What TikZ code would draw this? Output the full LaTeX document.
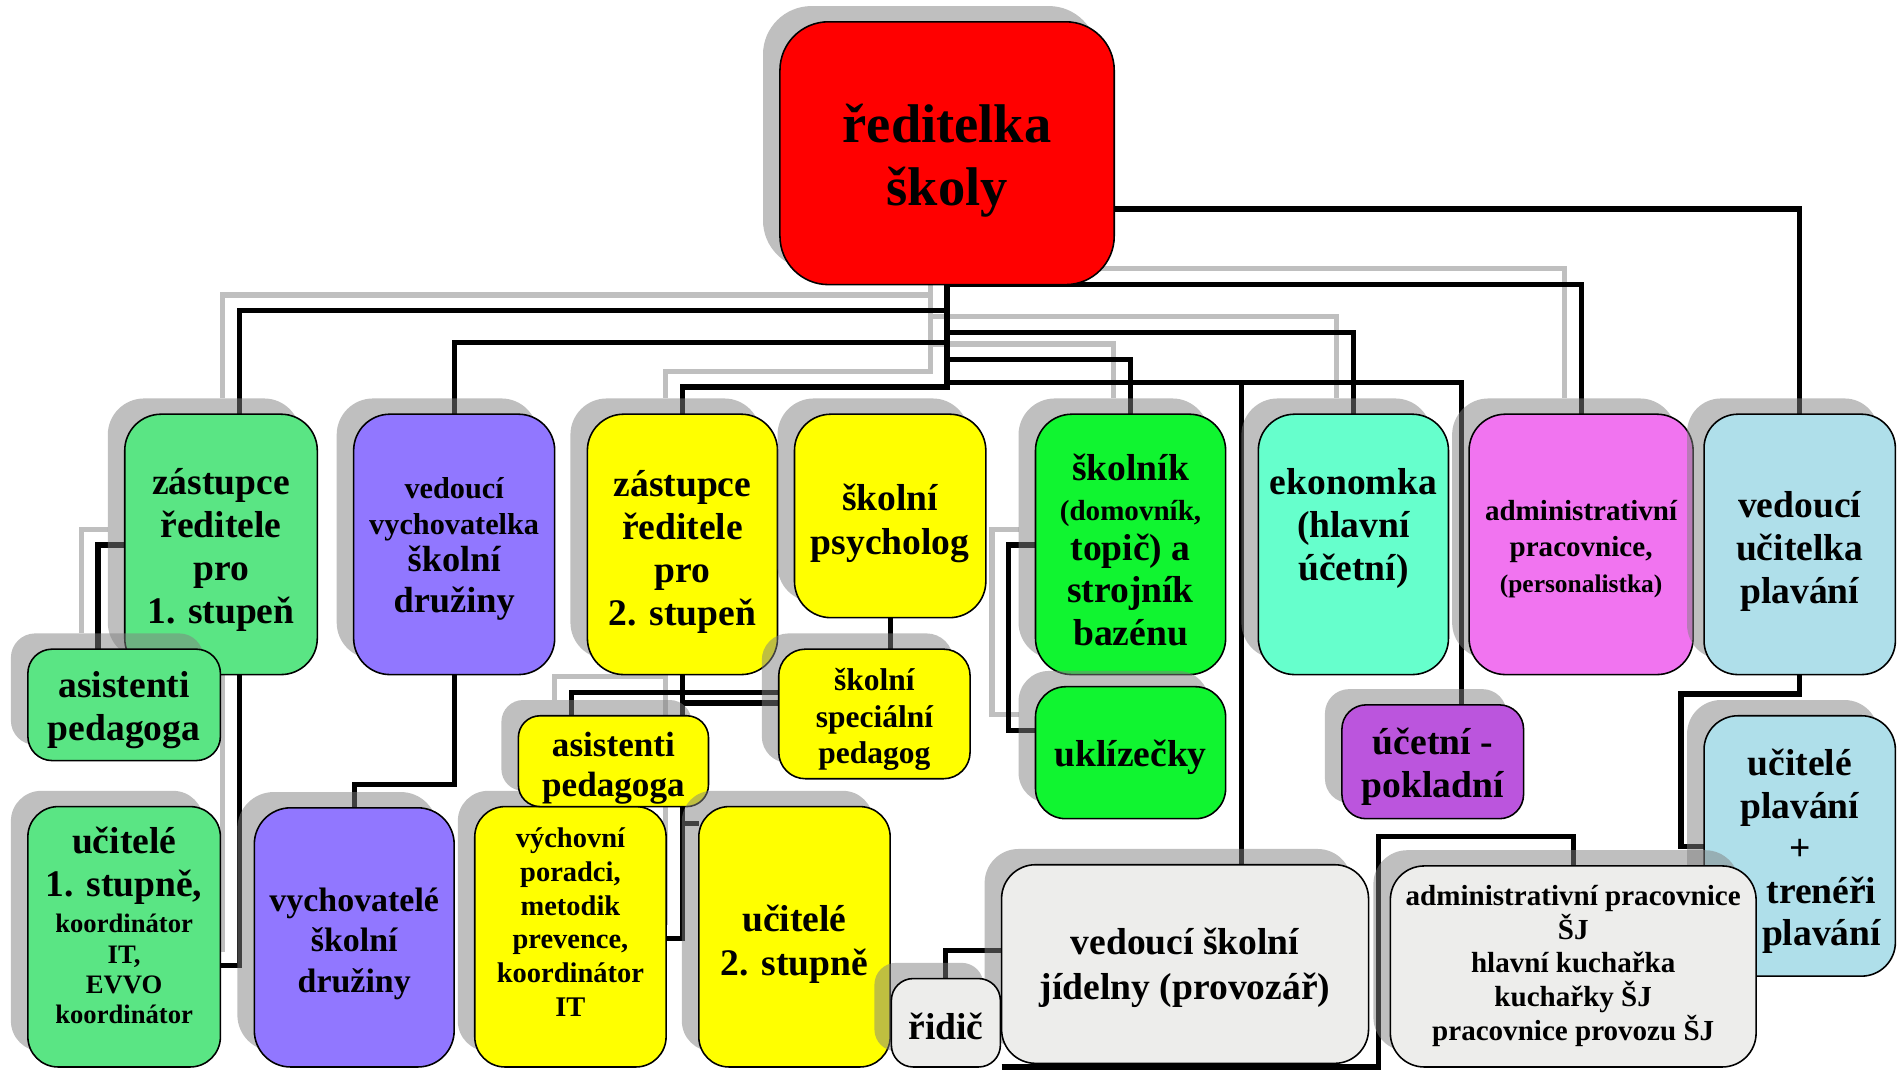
\documentclass[tikz,border=0pt]{standalone}
\usepackage{fontspec}
\setmainfont{Liberation Serif}
\usetikzlibrary{shadows}
\pgfdeclarelayer{bgl}
\pgfdeclarelayer{lshad}
\pgfdeclarelayer{lines}
\pgfsetlayers{bgl,lshad,lines,main}
\definecolor{cred}{HTML}{FF0000}
\definecolor{czel}{HTML}{5AE584}
\definecolor{cfial}{HTML}{9177FF}
\definecolor{cyel}{HTML}{FFFF00}
\definecolor{csvzel}{HTML}{10F530}
\definecolor{caqua}{HTML}{66FFCC}
\definecolor{cucet}{HTML}{BB55DD}
\definecolor{cruz}{HTML}{F174F0}
\definecolor{cmodr}{HTML}{AFDFEA}
\definecolor{cseda}{HTML}{EDEDEB}
\definecolor{clsh}{HTML}{BFBFBF}
\newcommand\fsz[2]{\fontsize{#1pt}{#2pt}\selectfont\lineskiplimit=-200pt\relax}
% box: name, x1, y1, x2, y2, fill, radius
\newcommand\bx[7]{\node[box, fill=#6, rounded corners=#7pt,
  minimum width={#4pt-#2pt}, minimum height={#5pt-#3pt}] (#1) at ({(#2+#4)/2},{(#3+#5)/2}) {};}
% connectors
\newcommand\cAd[1]{\draw[#1] (red.south) -| (ad.north);}
\newcommand\cZa[1]{\draw[#1] (red.south) -- (red.south |- 0,256.5) -| (z1.north -| 198,0);}
\newcommand\cEk[1]{\draw[#1] (red.south) -- (red.south |- 0,274.5) -| (ek.north);}
\newcommand\cVv[1]{\draw[#1] (red.south) -- (red.south |- 0,283) -| (vv.north);}
\newcommand\cSk[1]{\draw[#1] (red.south) -- (red.south |- 0,297) -| (sk.north);}
\newcommand\cUc[1]{\draw[#1] (red.south) -- (red.south |- 0,316) -| (uc.north -| 1207,0);}
\newcommand\cVj[1]{\draw[#1] (red.south |- 0,316) -| (vj.north -| 1025,0);}
\newcommand\cZb[1]{\draw[#1] (red.south) -- (red.south |- 0,319.5) -| (z2.north);}
\newcommand\cVpl[1]{\draw[#1] (red.east |- 0,172.5) -| (vpl.north);}
\newcommand\cAsa[1]{\draw[#1] (z1.west |- 0,450) -| (as1.north -| 81,0);}
\newcommand\cUa[1]{\draw[#1] (z1.south -| 198,0) |- (u1.east |- 0,797);}
\newcommand\cVy[1]{\draw[#1] (vv.south) -- (vv.south |- 0,648) -| (vy.north);}
\newcommand\cAsb[1]{\draw[#1] (z2.south) -- (z2.south |- 0,571.5) -| (as2.north -| 472,0);}
\newcommand\cSpa[1]{\draw[#1] (z2.south |- 0,571.5) -- (sp.west |- 0,571.5);}
\newcommand\cSpb[1]{\draw[#1] (z2.south) -- (z2.south |- 0,580.5) -- (sp.west |- 0,580.5);}
\newcommand\cVp[1]{\draw[#1] (z2.south) -- (z2.south |- 0,775) -- (vp.east |- 0,775);}
\newcommand\cUb[1]{\draw[#1] (z2.south |- 0,680) -- (u2.west |- 0,680);}
\newcommand\cPs[1]{\draw[#1] (ps.south) -- (ps.south |- sp.north);}
\newcommand\cUk[1]{\draw[#1] (sk.west |- 0,450) -| (833,603) -- (uk.west |- 0,603);}
\newcommand\cUpl[1]{\draw[#1] (vpl.south) -- (vpl.south |- 0,573) -| (1388,699) -- (upl.west |- 0,699);}
\newcommand\cRi[1]{\draw[#1] (vj.west |- 0,785) -| (ri.north);}
\newcommand\cAsj[1]{\draw[#1] (vj.south west |- 0,881) -| (1138,691) -| (asj.north);}
\begin{document}
\begin{tikzpicture}[x=1pt,y=-1pt,
  box/.style={draw=black, line width=1.3pt, inner sep=0pt, outer sep=0pt,
    drop shadow={shadow xshift=-14pt, shadow yshift=13pt, fill=black!50, opacity=0.5}},
  txt/.style={align=center, inner sep=0pt},
  conn/.style={draw=black, line width=4.3pt},
  lsh/.style={draw=clsh, line width=4.3pt}]
\useasboundingbox (0,0) rectangle (1568,883);
\begin{pgfonlayer}{bgl}
\fill[white] (0,0) rectangle (1568,883);
\end{pgfonlayer}

% boxes and texts
\bx{red}{644}{18}{920}{235}{cred}{40}
\node[txt, font=\bfseries\fsz{45}{52}] (redt) at (782,133) {ředitelka\\školy};

\bx{z1}{103}{342}{262}{557}{czel}{30}
\node[txt, font=\bfseries\fsz{31}{35.7}] (z1t) at (182.5,454) {zástupce\\ředitele\\pro\\1. stupeň};

\bx{as1}{23}{536}{182}{628}{czel}{20}
\node[txt, font=\bfseries\fsz{31}{36}] (as1t) at (102.5,586.5) {asistenti\\pedagoga};

\bx{u1}{23}{666}{182}{881}{czel}{25}
\node[txt, font=\bfseries\fsz{22}{25}] (u1t) at (102.5,764) {{\fsz{31}{25}učitelé}\\[11pt]{\fsz{31}{25}1. stupně,}\\[5pt]koordinátor\\IT,\\EVVO\\koordinátor};

\bx{vv}{292}{342}{458}{557}{cfial}{30}
\node[txt, font=\bfseries\fsz{25}{29}] (vvt) at (375,453.5) {vedoucí\\vychovatelka\\[2pt]{\fsz{30}{29}školní}\\[5pt]{\fsz{30}{29}družiny}};

\bx{vy}{210}{667}{375}{881}{cfial}{30}
\node[txt, font=\bfseries\fsz{28}{33.5}] (vyt) at (292.5,779) {vychovatelé\\školní\\družiny};

\bx{z2}{485}{342}{642}{557}{cyel}{30}
\node[txt, font=\bfseries\fsz{31}{35.5}] (z2t) at (563.5,455.5) {zástupce\\ředitele\\pro\\2. stupeň};

\bx{ps}{656}{342}{814}{510}{cyel}{30}
\node[txt, font=\bfseries\fsz{31}{36}] (pst) at (735,432) {školní\\psycholog};

\bx{sp}{643}{536}{801}{643}{cyel}{22}
\node[txt, font=\bfseries\fsz{26}{30.5}] (spt) at (722,594) {školní\\speciální\\pedagog};

\bx{vp}{392}{666}{550}{881}{cyel}{25}
\node[txt, font=\bfseries\fsz{23.5}{27.8}] (vpt) at (471,761.5) {výchovní\\poradci,\\metodik\\prevence,\\koordinátor\\IT};

\bx{as2}{428}{591}{585}{666}{cyel}{18}
\node[txt, font=\bfseries\fsz{29}{33}] (as2t) at (506.5,634) {asistenti\\pedagoga};

\bx{u2}{577}{666}{735}{881}{cyel}{25}
\node[txt, font=\bfseries\fsz{31}{36}] (u2t) at (656,779.5) {učitelé\\2. stupně};

\bx{sk}{855}{342}{1012}{557}{csvzel}{30}
\node[txt, font=\bfseries\fsz{31}{34}] (skt) at (933.5,454) {školník\\[-1pt]{\fsz{24}{34}(domovník,}\\[-1pt]topič) a\\[1pt]strojník\\[1pt]bazénu};

\bx{uk}{855}{567}{1012}{676}{csvzel}{25}
\node[txt, font=\bfseries\fsz{31}{36}] (ukt) at (933.5,625) {uklízečky};

\bx{ek}{1039}{342}{1196}{557}{caqua}{30}
\node[txt, font=\bfseries\fsz{31}{35.5}] (ekt) at (1117.5,436) {ekonomka\\(hlavní\\účetní)};

\bx{uc}{1108}{582}{1258}{676}{cucet}{20}
\node[txt, font=\bfseries\fsz{31}{35}] (uct) at (1183,633) {účetní -\\pokladní};

\bx{ad}{1213}{342}{1398}{557}{cruz}{30}
\node[txt, font=\bfseries\fsz{24}{29.5}] (adt) at (1305.5,453.5) {administrativní\\pracovnice,\\{\fsz{21}{29}(personalistka)}};

\bx{vpl}{1407}{342}{1565}{557}{cmodr}{28}
\node[txt, font=\bfseries\fsz{31}{35.5}] (vplt) at (1486,455) {vedoucí\\učitelka\\plavání};

\bx{upl}{1407}{591}{1565}{806}{cmodr}{28}
\node[txt, font=\bfseries\fsz{31}{35}] (uplt) at (1486,703) {učitelé\\plavání\\+\\\hspace*{36pt}trenéři\\\hspace*{36pt}plavání};

\bx{vj}{827}{714}{1130}{878}{cseda}{28}
\node[txt, font=\bfseries\fsz{31}{37}] (vjt) at (978.5,799) {vedoucí školní\\jídelny (provozář)};

\bx{ri}{736}{808}{826}{881}{cseda}{18}
\node[txt, font=\bfseries\fsz{31}{36}] (rit) at (781,847.5) {řidič};

\bx{asj}{1148}{715}{1450}{881}{cseda}{28}
\node[txt, font=\bfseries\fsz{24}{27.8}] (asjt) at (1299,797.5) {administrativní pracovnice\\ŠJ\\hlavní kuchařka\\kuchařky ŠJ\\pracovnice provozu ŠJ};

% connector shadows
\begin{pgfonlayer}{lshad}
\begin{scope}[transform canvas={xshift=-14pt,yshift=13pt}]
\cAd{lsh}\cZa{lsh}\cEk{lsh}\cSk{lsh}\cZb{lsh}
\cAsa{lsh}\cUa{lsh}\cAsb{lsh}\cVp{lsh}\cUk{lsh}
\end{scope}
\end{pgfonlayer}

% connectors
\begin{pgfonlayer}{lines}
\cAd{conn}\cZa{conn}\cEk{conn}\cVv{conn}\cSk{conn}\cUc{conn}\cVj{conn}\cZb{conn}\cVpl{conn}
\cAsa{conn}\cUa{conn}\cVy{conn}\cAsb{conn}\cSpa{conn}\cSpb{conn}\cVp{conn}\cUb{conn}
\cPs{conn}\cUk{conn}\cUpl{conn}\cRi{conn}\cAsj{conn}
\end{pgfonlayer}
\end{tikzpicture}
\end{document}
